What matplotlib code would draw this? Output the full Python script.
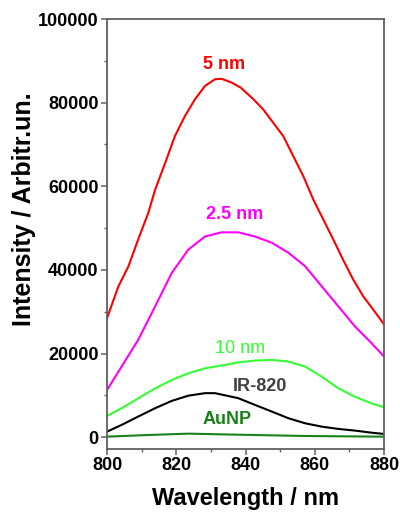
import matplotlib
matplotlib.use('Agg')
import matplotlib.pyplot as plt
from matplotlib.ticker import MultipleLocator

plt.rcParams['font.family'] = ['Liberation Sans', 'DejaVu Sans']

# spectra (wavelength nm, intensity)
wl_5 = [800, 803.3, 806.2, 809.0, 811.9, 813.9, 816.8, 819.6, 822.5, 825.4,
        828.3, 831.2, 833.1, 836.0, 838.6, 842.3, 845.1, 848.0, 850.9, 853.8,
        856.7, 859.6, 862.5, 865.4, 868.2, 871.1, 874.0, 876.9, 880]
i_5 = [28500, 36100, 40900, 47300, 53600, 59200, 65600, 72000, 76800, 80800,
       84000, 85600, 85700, 84800, 83600, 80800, 78400, 75200, 72000, 67200,
       62400, 56800, 52000, 47200, 42400, 37700, 33700, 30500, 27000]

wl_25 = [800, 804.2, 809.0, 813.9, 818.7, 823.5, 828.3, 833.1, 837.9, 842.7,
         847.6, 852.4, 857.2, 862.0, 866.8, 871.6, 876.4, 880]
i_25 = [11300, 16900, 23300, 31300, 39300, 44900, 48000, 49000, 49000, 48000,
        46500, 44100, 40900, 36100, 31300, 26500, 22500, 19300]

wl_10 = [800, 804.2, 809.0, 813.9, 818.7, 823.5, 828.3, 833.1, 837.9, 842.7,
         847.6, 852.4, 857.2, 862.0, 866.8, 871.6, 876.4, 880]
i_10 = [5100, 6950, 9300, 11700, 13700, 15300, 16500, 17150, 17900, 18350,
        18500, 18100, 16900, 14500, 11700, 9700, 8100, 7200]

wl_ir = [800, 804.2, 809.0, 813.9, 818.7, 823.5, 828.3, 831.2, 837.9, 842.7,
         847.6, 852.4, 857.2, 862.0, 866.8, 871.6, 876.4, 880]
i_ir = [1350, 2950, 4950, 6950, 8700, 9950, 10550, 10550, 9350, 7750,
        6150, 4550, 3350, 2550, 2000, 1600, 1100, 800]

wl_au = [800, 812, 823.5, 837.9, 857.2, 880]
i_au = [150, 550, 870, 620, 310, 150]

fig = plt.figure(figsize=(4.0, 5.13), dpi=100, facecolor='white')
ax = fig.add_axes([107/400, 1 - 449/513, 277/400, 430/513])

ax.plot(wl_5, i_5, color='#ff0000', lw=1.5)
ax.plot(wl_25, i_25, color='#ff00ff', lw=1.5)
ax.plot(wl_10, i_10, color='#33ff33', lw=1.5)
ax.plot(wl_ir, i_ir, color='black', lw=1.5)
ax.plot(wl_au, i_au, color='#1a801a', lw=1.5)

ax.text(833.7, 89200, '5 nm', color='#ff0000', fontsize=13, fontweight='bold',
        ha='center', va='center')
ax.text(837, 53200, '2.5 nm', color='#ff00ff', fontsize=13, fontweight='bold',
        ha='center', va='center')
ax.text(838.4, 21300, '10 nm', color='#33ff33', fontsize=13,
        ha='center', va='center')
ax.text(844.2, 12100, 'IR-820', color='#404040', fontsize=13, fontweight='bold',
        ha='center', va='center')
ax.text(834.6, 4150, 'AuNP', color='#1a801a', fontsize=13, fontweight='bold',
        ha='center', va='center')

ax.set_xlim(800, 880)
ax.set_ylim(-2800, 100000)
ax.xaxis.set_major_locator(MultipleLocator(20))
ax.xaxis.set_minor_locator(MultipleLocator(10))
ax.yaxis.set_major_locator(MultipleLocator(20000))
ax.yaxis.set_minor_locator(MultipleLocator(10000))

for s in ax.spines.values():
    s.set_color('#606060')
    s.set_linewidth(1.3)
ax.tick_params(which='major', direction='out', length=4, width=1.1, color='#606060',
               labelsize=13, pad=2)
ax.tick_params(which='minor', direction='out', length=2.5, width=1.0, color='#606060')
for lab in ax.get_xticklabels() + ax.get_yticklabels():
    lab.set_fontweight('bold')

ax.set_xlabel('Wavelength / nm', fontsize=17, fontweight='bold', labelpad=9)
ax.set_ylabel('Intensity / Arbitr.un.', fontsize=18, fontweight='bold')
ax.yaxis.set_label_coords(-0.256, 0.558)

fig.savefig('out.png', dpi=100, facecolor='white')
